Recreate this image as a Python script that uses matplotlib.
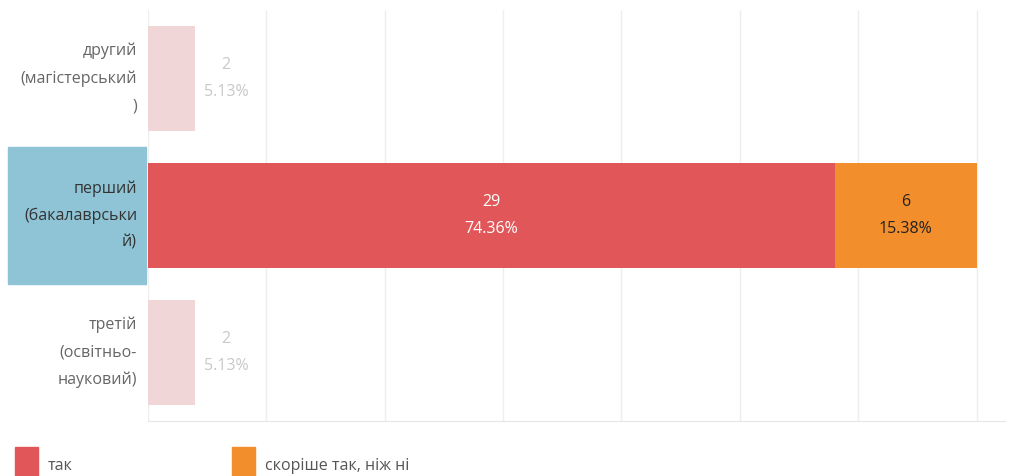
import matplotlib.pyplot as plt
from matplotlib.patches import Rectangle

# data
categories = ['другий\n(магістерський\n)', 'перший\n(бакалаврськи\nй)', 'третій\n(освітньо-\nнауковий)']
tak = [2, 29, 2]
skorishe = [0, 6, 0]
total = 39
series_names = ['так', 'скоріше так, ніж ні']
highlight = 1

RED = '#e15759'
ORANGE = '#f28e2b'
RED_FADED = '#f0d6d7'
BLUE = '#8ec4d5'

plt.rcParams['font.family'] = ['Open Sans', 'DejaVu Sans']

fig = plt.figure(figsize=(10.14, 4.76), dpi=100)
ax = fig.add_axes([148 / 1014, 55 / 476, 857 / 1014, 411 / 476])

ys = list(range(len(categories)))
bh = 0.76
fs = 11.5
for i, y in enumerate(ys):
    hl = i == highlight
    ax.barh(y, tak[i], height=bh, color=RED if hl else RED_FADED, zorder=2)
    if skorishe[i]:
        ax.barh(y, skorishe[i], left=tak[i], height=bh, color=ORANGE, zorder=2)
    if hl:
        ax.text(tak[i] / 2, y, f'{tak[i]}\n{tak[i] / total * 100:.2f}%', ha='center', va='center',
                color='white', fontsize=fs, linespacing=1.95, zorder=3)
        ax.text(tak[i] + skorishe[i] / 2, y, f'{skorishe[i]}\n{skorishe[i] / total * 100:.2f}%',
                ha='center', va='center', color='#222222', fontsize=fs, linespacing=1.95, zorder=3)
    else:
        ax.text(tak[i] + 1.3, y, f'{tak[i]}\n{tak[i] / total * 100:.2f}%', ha='center', va='center',
                color='#c8c8c8', fontsize=fs, linespacing=1.95, zorder=3)

ax.set_xlim(0, 36.2)
ax.set_ylim(2.5, -0.5)
ax.set_xticks(range(0, 36, 5))
ax.set_yticks([])
ax.tick_params(axis='x', length=0, labelbottom=False)
ax.grid(axis='x', color='#eeeeee', linewidth=1, zorder=0)
for s in ['top', 'right', 'left']:
    ax.spines[s].set_visible(False)
ax.spines['bottom'].set_color('#e6e6e6')

# row labels
for i, y in enumerate(ys):
    hl = i == highlight
    if hl:
        ax.add_patch(Rectangle((-140 / 23.68, y - 0.5), 138 / 23.68, 1.0, color=BLUE,
                               transform=ax.transData, clip_on=False, zorder=1))
    ax.text(-11 / 23.68, y, categories[i], ha='right', va='center', fontsize=fs,
            linespacing=1.9, color='#333333' if hl else '#666666', clip_on=False)

# legend
colors = [RED, ORANGE]
xs = [15, 232]
for name, c, x in zip(series_names, colors, xs):
    fig.patches.append(Rectangle((x / 1014, 0), 23 / 1014, 29 / 476, color=c,
                                 transform=fig.transFigure, figure=fig))
    fig.text((x + 33) / 1014, 10 / 476, name, ha='left', va='center', fontsize=fs, color='#555555')

fig.savefig('out.png', dpi=100)
